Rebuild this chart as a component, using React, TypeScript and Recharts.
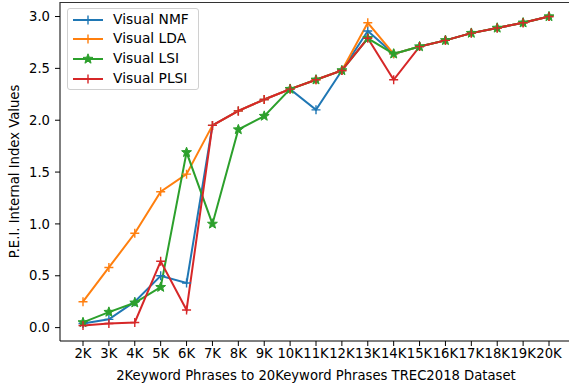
import React from 'react';
import { LineChart, Line, XAxis, YAxis } from 'recharts';

const categories = ['2K','3K','4K','5K','6K','7K','8K','9K','10K','11K','12K','13K','14K','15K','16K','17K','18K','19K','20K'];
const nmf  = [0.04,0.08,0.25,0.50,0.43,1.95,2.09,2.20,2.30,2.10,2.48,2.86,2.64,2.71,2.77,2.84,2.89,2.94,3.00];
const lda  = [0.25,0.58,0.91,1.31,1.48,1.95,2.09,2.20,2.30,2.39,2.48,2.94,2.64,2.71,2.77,2.84,2.89,2.94,3.00];
const lsi  = [0.05,0.15,0.24,0.39,1.69,1.00,1.91,2.04,2.30,2.39,2.48,2.79,2.64,2.71,2.77,2.84,2.89,2.94,3.00];
const plsi = [0.02,0.04,0.05,0.64,0.17,1.95,2.09,2.20,2.30,2.39,2.48,2.79,2.39,2.71,2.77,2.84,2.89,2.94,3.00];
const yTicks = [0, 0.5, 1.0, 1.5, 2.0, 2.5, 3.0];
const Y_MIN = -0.129;
const Y_MAX = 3.14;

const seriesNames = ['Visual NMF', 'Visual LDA', 'Visual LSI', 'Visual PLSI'];
const seriesKeys = ['nmf', 'lda', 'lsi', 'plsi'];
const seriesColors = ['#1f77b4', '#ff7f0e', '#2ca02c', '#d62728'];
const seriesMarkers = ['plus', 'plus', 'star', 'plus'];

const data = categories.map((c, i) => ({ cat: c, nmf: nmf[i], lda: lda[i], lsi: lsi[i], plsi: plsi[i] }));

const FONT = 'DejaVu Sans';
const FS = 13.2;

function starPath(cx: number, cy: number, r: number, ri: number) {
  let d = '';
  for (let k = 0; k < 10; k++) {
    const rr = k % 2 === 0 ? r : ri;
    const a = -Math.PI / 2 + (k * Math.PI) / 5;
    d += (k === 0 ? 'M' : 'L') + (cx + rr * Math.cos(a)).toFixed(2) + ',' + (cy + rr * Math.sin(a)).toFixed(2);
  }
  return d + 'Z';
}

function Marker({ cx, cy, color, kind }: any) {
  if (cx == null || cy == null) return null;
  if (kind === 'star') {
    return <path d={starPath(cx, cy, 5.2, 2.2)} fill={color} stroke={color} strokeWidth={1} />;
  }
  return <path d={`M${cx - 4.5},${cy}h9M${cx},${cy - 4.5}v9`} stroke={color} strokeWidth={1.4} fill="none" />;
}

const makeDot = (color: string, kind: string) => (props: any) => (
  <Marker key={`${props.index}`} cx={props.cx} cy={props.cy} color={color} kind={kind} />
);

const LegendBox = () => (
  <div
    style={{
      position: 'absolute',
      left: 67,
      top: 8,
      border: '1px solid #d0d0d0',
      borderRadius: 3,
      background: 'rgba(255,255,255,0.8)',
      padding: '1px 9px 1px 4px',
      fontFamily: FONT,
      fontSize: FS + 0.6,
      color: '#000',
      lineHeight: 1,
    }}
  >
    {seriesNames.map((n, i) => (
      <div key={n} style={{ display: 'flex', alignItems: 'center', height: 19.6 }}>
        <svg width={38} height={14} style={{ marginRight: 3 }}>
          <line x1={1} y1={7} x2={31} y2={7} stroke={seriesColors[i]} strokeWidth={2} />
          <Marker cx={16} cy={7} color={seriesColors[i]} kind={seriesMarkers[i]} />
        </svg>
        <span>{n}</span>
      </div>
    ))}
  </div>
);

export default function App() {
  return (
    <div style={{ position: 'absolute', left: 0, top: 0, width: 569, height: 383, overflow: 'hidden', background: '#fff' }}>
      <LineChart width={572} height={383} data={data} margin={{ top: 2, right: 0, bottom: 0, left: 0 }}>
        <XAxis
          dataKey="cat"
          interval={0}
          padding={{ left: 23, right: 23 }}
          height={42}
          stroke="#000"
          tickSize={5}
          tickMargin={3}
          tick={{ fill: '#000', fontFamily: FONT, fontSize: FS }}
          tickLine={{ stroke: '#000' }}
          label={{ value: '2Keyword Phrases to 20Keyword Phrases TREC2018 Dataset', position: 'insideBottom', offset: 3, fill: '#000', fontFamily: FONT, fontSize: FS }}
        />
        <YAxis
          domain={[Y_MIN, Y_MAX]}
          ticks={yTicks}
          width={60}
          type="number"
          allowDataOverflow
          stroke="#000"
          tickSize={5}
          tickMargin={5}
          tickFormatter={(v: number) => v.toFixed(1)}
          tick={{ fill: '#000', fontFamily: FONT, fontSize: FS }}
          label={{ value: 'P.E.I. Internal Index Values', angle: -90, position: 'center', dx: -16, fill: '#000', fontFamily: FONT, fontSize: FS }}
        />
        {seriesKeys.map((k, i) => (
          <Line
            key={k}
            dataKey={k}
            name={seriesNames[i]}
            stroke={seriesColors[i]}
            strokeWidth={2}
            isAnimationActive={false}
            type="linear"
            dot={makeDot(seriesColors[i], seriesMarkers[i])}
            activeDot={false}
          />
        ))}
      </LineChart>
      <div style={{ position: 'absolute', left: 60, top: 1.5, width: 520, height: 0, borderTop: '1px solid #333' }} />
      <LegendBox />
    </div>
  );
}
